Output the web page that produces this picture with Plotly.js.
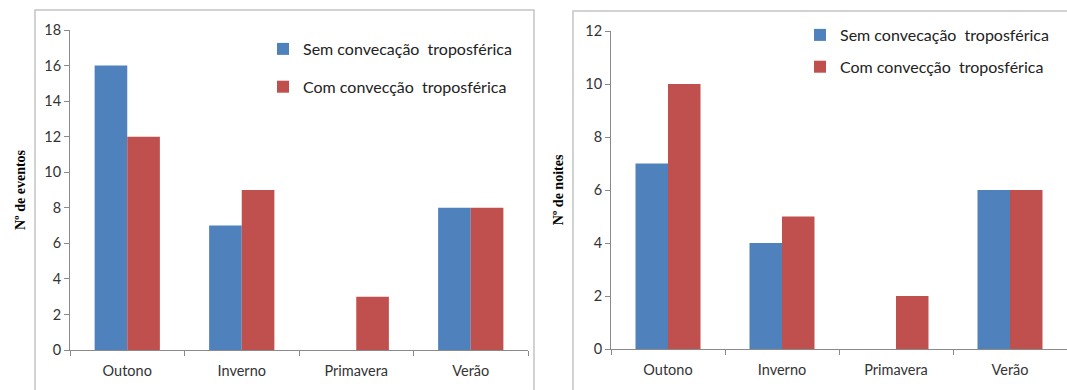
<!DOCTYPE html>
<html>
<head>
<meta charset="utf-8">
<script src="https://cdn.plot.ly/plotly-3.0.1.min.js"></script>
<style>html,body{margin:0;padding:0;background:#fff;}#chart{width:1067px;height:390px;}</style>
</head>
<body>
<div id="chart"></div>
<script>
// Data
const categories = ["Outono", "Inverno", "Primavera", "Verão"];
const seriesNames = ["Sem convecação\u00a0 troposférica", "Com convecção\u00a0 troposférica"];
const eventosSem = [16, 7, 0, 8];
const eventosCom = [12, 9, 3, 8];
const noitesSem = [7, 4, 0, 6];
const noitesCom = [10, 5, 2, 6];
const yTicksEventos = [0, 2, 4, 6, 8, 10, 12, 14, 16, 18];
const yTicksNoites = [0, 2, 4, 6, 8, 10, 12];
const yTitleEventos = "Nº de eventos";
const yTitleNoites = "Nº de noites";

const W = 1067, H = 390;
const BLUE = "#4F81BD", RED = "#C0504D";
const tickFont = {family: "Lato, 'Open Sans', sans-serif", size: 14.5, color: "#333"};
const legFont = {family: "Lato, 'Open Sans', sans-serif", size: 16, color: "#222"};
const titleFont = {family: "'Liberation Serif', 'DejaVu Serif', serif", size: 14, color: "#000", weight: "bold"};

const traces = [
  {type: "bar", x: categories, y: eventosSem, name: seriesNames[0], marker: {color: BLUE}, xaxis: "x", yaxis: "y", legend: "legend", legendgroup: "a"},
  {type: "bar", x: categories, y: eventosCom, name: seriesNames[1], marker: {color: RED}, xaxis: "x", yaxis: "y", legend: "legend", legendgroup: "b"},
  {type: "bar", x: categories, y: noitesSem, name: seriesNames[0], marker: {color: BLUE}, xaxis: "x2", yaxis: "y2", legend: "legend2", legendgroup: "c"},
  {type: "bar", x: categories, y: noitesCom, name: seriesNames[1], marker: {color: RED}, xaxis: "x2", yaxis: "y2", legend: "legend2", legendgroup: "d"}
];

const axisLine = "#8a8a8a";
function xa(domain, anchor) {
  return {domain: domain, anchor: anchor, showline: true, linecolor: axisLine, linewidth: 1,
    ticks: "outside", ticklen: 5, tickcolor: axisLine, tickson: "boundaries", ticklabelstandoff: 8,
    tickfont: tickFont, showgrid: false, zeroline: false, fixedrange: true};
}
function ya(domain, anchor, ticks, range, title, standoff) {
  return {domain: domain, anchor: anchor, range: range, tickvals: ticks, showline: true, linecolor: axisLine,
    linewidth: 1, ticks: "outside", ticklen: 5, tickcolor: axisLine, tickfont: tickFont,
    showgrid: false, zeroline: false, fixedrange: true,
    title: {text: title, font: titleFont, standoff: standoff}};
}

const layout = {
  width: W, height: H,
  margin: {l: 0, r: 0, t: 0, b: 0},
  paper_bgcolor: "#fff", plot_bgcolor: "#fff",
  barmode: "group", bargap: 0.43, bargroupgap: 0,
  xaxis: xa([70 / W, 528 / W], "y"),
  yaxis: ya([40 / H, 360 / H], "x", yTicksEventos, [0, 18], yTitleEventos, 15),
  xaxis2: xa([611 / W, 1067 / W], "y2"),
  yaxis2: ya([41 / H, 359 / H], "x2", yTicksNoites, [0, 12], yTitleNoites, 18),
  legend: {x: 263 / W, y: 1 - 32 / H, xanchor: "left", yanchor: "top", font: legFont,
    bgcolor: "rgba(0,0,0,0)", traceorder: "grouped", tracegroupgap: 14, itemclick: false},
  legend2: {x: 800 / W, y: 1 - 18 / H, xanchor: "left", yanchor: "top", font: legFont,
    bgcolor: "rgba(0,0,0,0)", traceorder: "grouped", tracegroupgap: 8, itemclick: false},
  shapes: [
    {type: "rect", xref: "paper", yref: "paper", x0: 35 / W, x1: 534 / W, y0: -0.05, y1: 1 - 10 / H,
      line: {color: "#c4c4c4", width: 1.5}, fillcolor: "rgba(0,0,0,0)", layer: "below"},
    {type: "rect", xref: "paper", yref: "paper", x0: 573 / W, x1: 1.05, y0: -0.05, y1: 1 - 11 / H,
      line: {color: "#c4c4c4", width: 1.5}, fillcolor: "rgba(0,0,0,0)", layer: "below"}
  ]
};

Plotly.newPlot("chart", traces, layout, {displayModeBar: false, staticPlot: true});
</script>
</body>
</html>
